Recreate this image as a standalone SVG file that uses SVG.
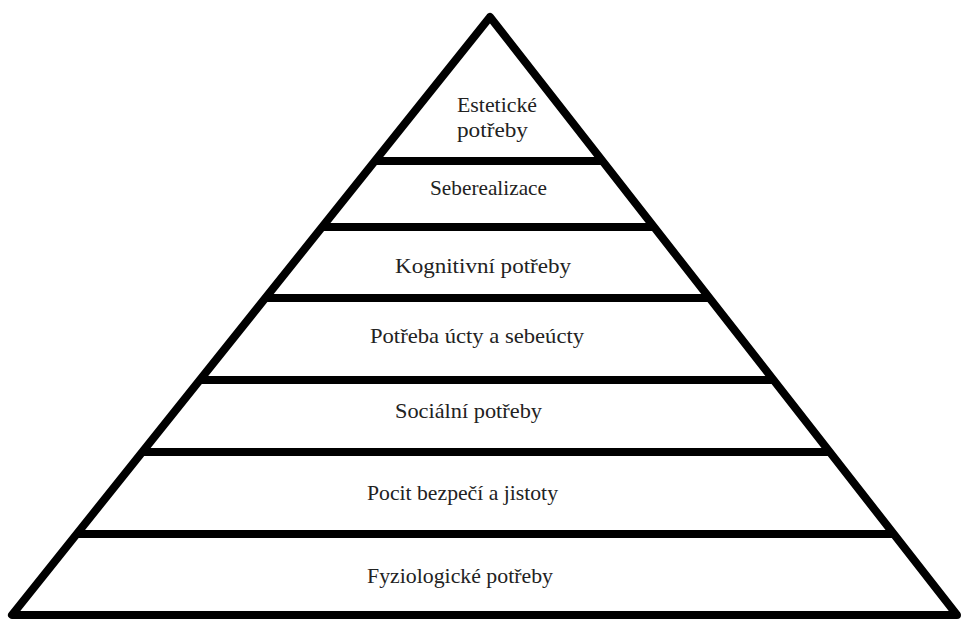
<svg xmlns="http://www.w3.org/2000/svg" width="961" height="619" viewBox="0 0 961 619">
<style>
.edge{fill:none;stroke:#000;stroke-width:8;stroke-linejoin:round}
.band{stroke:#000;stroke-width:8}
.lbl{font-family:"Liberation Serif","Times New Roman",serif;font-size:21px;fill:#222}
</style>
<rect width="961" height="619" fill="#fff"/>
<g id="connectors">
<polygon class="edge" points="490,17 12,615 957,615"/>
<line class="band" x1="375" y1="161" x2="602" y2="161"/>
<line class="band" x1="322" y1="227" x2="654" y2="227"/>
<line class="band" x1="265" y1="298" x2="709" y2="298"/>
<line class="band" x1="200" y1="380" x2="773" y2="380"/>
<line class="band" x1="142" y1="452" x2="830" y2="452"/>
<line class="band" x1="77" y1="534" x2="894" y2="534"/>
</g>
<g id="level7"><text class="lbl" x="457" y="112" textLength="80" lengthAdjust="spacingAndGlyphs">Estetické</text><text class="lbl" x="457" y="137" textLength="71" lengthAdjust="spacingAndGlyphs">potřeby</text></g>
<g id="level6"><text class="lbl" x="430" y="195" textLength="117" lengthAdjust="spacingAndGlyphs">Seberealizace</text></g>
<g id="level5"><text class="lbl" x="395" y="273" textLength="176" lengthAdjust="spacingAndGlyphs">Kognitivní potřeby</text></g>
<g id="level4"><text class="lbl" x="370" y="343" textLength="214" lengthAdjust="spacingAndGlyphs">Potřeba úcty a sebeúcty</text></g>
<g id="level3"><text class="lbl" x="395" y="418" textLength="147" lengthAdjust="spacingAndGlyphs">Sociální potřeby</text></g>
<g id="level2"><text class="lbl" x="367" y="500" textLength="191" lengthAdjust="spacingAndGlyphs">Pocit bezpečí a jistoty</text></g>
<g id="level1"><text class="lbl" x="367" y="583" textLength="186" lengthAdjust="spacingAndGlyphs">Fyziologické potřeby</text></g>
</svg>
